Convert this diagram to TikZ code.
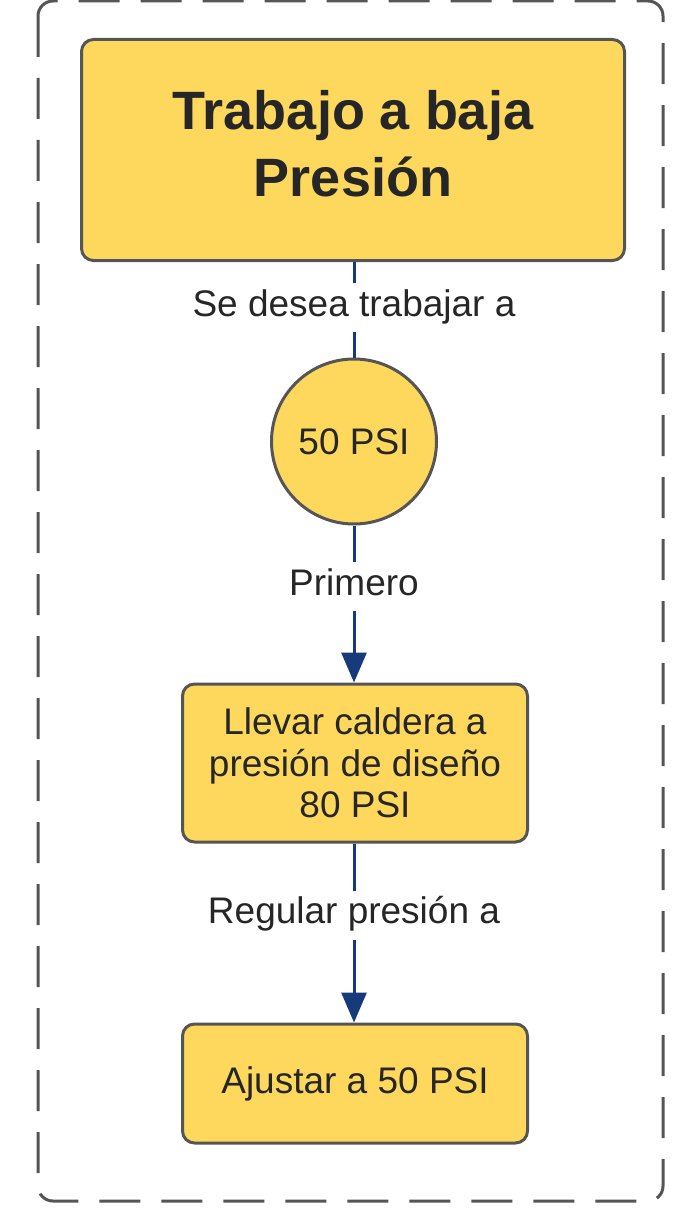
\documentclass[tikz,border=0pt]{standalone}
\usepackage{fontspec}
\setmainfont{Liberation Sans}
\usetikzlibrary{arrows.meta}
\definecolor{boxfill}{HTML}{FDD85D}
\definecolor{boxline}{HTML}{555555}
\definecolor{navy}{HTML}{173A7A}
\definecolor{txt}{HTML}{262626}
\tikzset{
  stepbox/.style={draw=boxline, line width=3pt, fill=boxfill, rounded corners=12pt,
    align=center, text=txt, inner sep=0pt, font=\fontsize{37}{41.5}\selectfont},
  titlebox/.style={draw=boxline, line width=3pt, fill=boxfill, rounded corners=12pt, inner sep=0pt},
  titletext/.style={align=center, text=txt, inner sep=0pt, font=\fontsize{54}{67}\selectfont\bfseries},
  circnode/.style={draw=boxline, line width=3pt, fill=boxfill, circle, inner sep=0pt,
    minimum size=165pt, text=txt, font=\fontsize{37}{41.5}\selectfont},
  conn/.style={draw=navy, line width=3pt},
  arr/.style={conn, -{Triangle[length=30pt,width=25pt]}},
  lbl/.style={fill=white, inner sep=0pt, text=txt, text height=33pt, text depth=16pt,
    font=\fontsize{37}{41.5}\selectfont},
  frame/.style={draw=boxline, line width=3pt, dash pattern=on 41pt off 21pt, rounded corners=15pt}
}
\begin{document}
\begin{tikzpicture}[x=1pt,y=-1pt]
\useasboundingbox (0,0) rectangle (680,1217);
\draw[frame] (38,1) rectangle (663,1201);
\node[titlebox, minimum width=543pt, minimum height=221pt,
  label={[titletext, yshift=6pt]center:Trabajo a baja\\Presión}] (top) at (353,150) {};
\node[circnode] (c) at (354,441.5) {50 PSI};
\node[stepbox, minimum width=345pt, minimum height=158pt] (b2) at (355,763) {Llevar caldera a\\presión de diseño\\80 PSI};
\node[stepbox, minimum width=345pt, minimum height=119pt] (b3) at (355,1083.5) {Ajustar a 50 PSI};
\draw[conn] (top.south -| c.north) -- node[lbl, pos=0.48] (l1) {Se desea trabajar a} (c.north);
\draw[arr] (c.south) -- node[lbl, pos=0.39] (l2) {Primero} (b2.north -| c.south);
\draw[arr] (b2.south -| c.south) -- node[lbl, pos=0.40] (l3) {Regular presión a} (b3.north -| c.south);
\end{tikzpicture}
\end{document}
